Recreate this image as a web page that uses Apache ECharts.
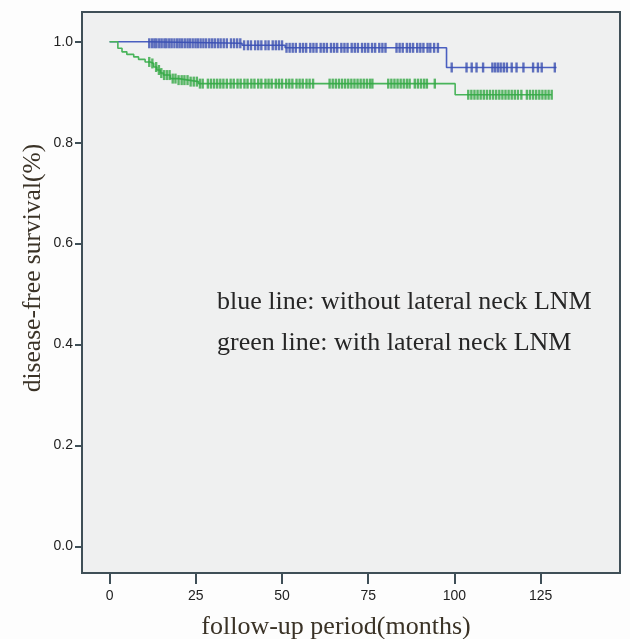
<!DOCTYPE html>
<html>
<head>
<meta charset="utf-8">
<script src="https://cdn.jsdelivr.net/npm/echarts@6/dist/echarts.min.js"></script>
<style>
html,body{margin:0;padding:0;background:#fdfdfd;}
#c{width:630px;height:639px;}
</style>
</head>
<body>
<div id="c"></div>
<script>
// Tick labels
var xTicks = [0, 25, 50, 75, 100, 125];
var yTicks = [0, 0.2, 0.4, 0.6, 0.8, 1.0];

// Blue: without lateral neck LNM — event steps [time, survival]
var blueSteps = [[0, 1.0], [10.8, 0.997], [38.4, 0.993], [50.9, 0.988], [97.7, 0.949]];
var blueEnd = 129.6;
var blueCensor = [11.5, 12.3, 13.0, 13.6, 14.4, 15.1, 15.9, 16.5, 17.3, 18.0, 18.8, 19.6, 20.3, 21.0, 21.8, 22.6, 23.3, 24.1, 24.9, 25.6, 26.4, 27.2, 28.0, 28.9, 29.7, 30.5, 31.4, 32.2, 33.1, 34.0, 35.2, 36.1, 37.0, 37.9, 39.0, 40.1, 41.0, 42.2, 43.1, 44.0, 45.2, 46.1, 47.3, 48.2, 49.1, 50.0, 51.3, 52.2, 53.1, 54.0, 55.2, 56.1, 57.0, 58.2, 59.1, 60.0, 61.2, 62.1, 63.0, 64.2, 65.1, 66.0, 67.2, 68.1, 69.0, 70.2, 71.1, 72.0, 73.2, 74.1, 75.0, 76.1, 77.0, 78.2, 79.1, 80.0, 83.2, 84.1, 85.0, 86.2, 87.1, 88.0, 89.2, 90.1, 91.0, 92.2, 93.0, 94.1, 95.2,
  99.2, 103.5, 105.0, 106.4, 108.3, 111.0, 111.8, 112.6, 113.4, 114.3, 115.2, 116.6, 118.0, 120.0, 122.8, 124.2, 125.3, 129.1];

// Green: with lateral neck LNM
var greenSteps = [[0, 1.0], [2.4, 0.987], [3.6, 0.980], [5.0, 0.975], [7.0, 0.970], [8.4, 0.965], [10.3, 0.960], [11.8, 0.957], [12.8, 0.950], [13.7, 0.944], [14.7, 0.938], [15.6, 0.934], [17.6, 0.927], [20.0, 0.924], [22.9, 0.921], [25.8, 0.917], [100.2, 0.895]];
var greenEnd = 128.2;
var greenCensor = [11.5, 12.4, 13.5, 14.3, 15.0, 15.8, 16.6, 17.4, 18.3, 19.1, 20.0, 20.9, 21.7, 22.6, 23.5, 24.4, 25.3, 26.2, 27.0, 28.5, 29.4, 30.3, 31.2, 32.1, 33.0, 34.0, 35.1, 36.0, 37.1, 38.0, 39.1, 40.0, 41.1, 42.0, 43.1, 44.0, 45.2, 46.1, 47.0, 48.2, 49.1, 50.0, 51.2, 52.1, 53.0, 54.2, 55.1, 56.0, 57.1, 58.0, 59.0, 63.8, 64.7, 65.6, 66.5, 67.4, 68.3, 69.2, 70.1, 71.0, 71.9, 72.8, 73.7, 74.6, 75.5, 76.2, 80.8, 81.7, 82.6, 83.5, 84.4, 85.3, 86.2, 87.0, 88.5, 89.4, 90.3, 91.2, 92.0, 94.3,
  104.0, 104.9, 105.8, 106.7, 107.6, 108.5, 109.4, 110.3, 111.2, 112.1, 113.0, 113.9, 114.8, 115.7, 116.6, 117.5, 118.4, 119.4, 121.0, 121.9, 122.8, 123.7, 124.6, 125.5, 126.4, 127.3, 128.2];

function survAt(steps, t) {
  var s = steps[0][1];
  for (var i = 0; i < steps.length; i++) { if (steps[i][0] <= t) s = steps[i][1]; }
  return s;
}
function curve(steps, end) {
  var d = steps.map(function (p) { return [p[0], p[1]]; });
  d.push([end, steps[steps.length - 1][1]]);
  return d;
}
function marks(steps, cens) {
  return cens.map(function (t) { return [t, survAt(steps, t)]; });
}

var frame = '#3f4f57';
var chart = echarts.init(document.getElementById('c'));
chart.setOption({
  backgroundColor: '#fdfdfd',
  animation: false,
  grid: { left: 82, right: 10, top: 12, bottom: 66, show: true, backgroundColor: '#eff0f0', borderColor: frame, borderWidth: 2 },
  xAxis: {
    type: 'value', min: -8, max: 148,
    axisLine: { show: true, onZero: false, lineStyle: { color: frame, width: 2 } },
    axisTick: { show: true, length: 11, customValues: xTicks, lineStyle: { color: frame, width: 2 } },
    axisLabel: { customValues: xTicks, margin: 16, fontFamily: 'Liberation Sans', fontSize: 14, color: '#222' },
    splitLine: { show: false }
  },
  yAxis: {
    type: 'value', min: -0.053, max: 1.059,
    axisLine: { show: true, onZero: false, lineStyle: { color: frame, width: 2 } },
    axisTick: { show: true, length: 7, customValues: yTicks, lineStyle: { color: frame, width: 2 } },
    axisLabel: { customValues: yTicks, margin: 9, fontFamily: 'Liberation Sans', fontSize: 14, color: '#222', formatter: function (v) { return v.toFixed(1); } },
    splitLine: { show: false }
  },
  series: [
    { type: 'line', step: 'end', data: curve(blueSteps, blueEnd), showSymbol: false, lineStyle: { color: '#4a5fc0', width: 1.6 }, z: 3 },
    { type: 'line', step: 'end', data: curve(greenSteps, greenEnd), showSymbol: false, lineStyle: { color: '#48b45a', width: 1.6 }, z: 3 },
    { type: 'scatter', data: marks(blueSteps, blueCensor), symbol: 'rect', symbolSize: [2.4, 10], itemStyle: { color: '#3a4fb0' }, z: 4 },
    { type: 'scatter', data: marks(greenSteps, greenCensor), symbol: 'rect', symbolSize: [2.4, 10], itemStyle: { color: '#33a843' }, z: 4 }
  ],
  graphic: [
    { type: 'text', x: 217, y: 302, style: { text: 'blue line: without lateral neck LNM', font: '26px "Liberation Serif"', fill: '#262626', verticalAlign: 'middle' } },
    { type: 'text', x: 217, y: 343, style: { text: 'green line: with lateral neck LNM', font: '26px "Liberation Serif"', fill: '#262626', verticalAlign: 'middle' } },
    { type: 'text', x: 336, y: 627, style: { text: 'follow-up period(months)', font: '26px "Liberation Serif"', fill: '#3a3226', align: 'center', verticalAlign: 'middle' } },
    { type: 'text', x: 33, y: 268, rotation: Math.PI / 2, style: { text: 'disease-free survival(%)', font: '25.5px "Liberation Serif"', fill: '#3a3226', align: 'center', verticalAlign: 'middle' } }
  ]
});
</script>
</body>
</html>
